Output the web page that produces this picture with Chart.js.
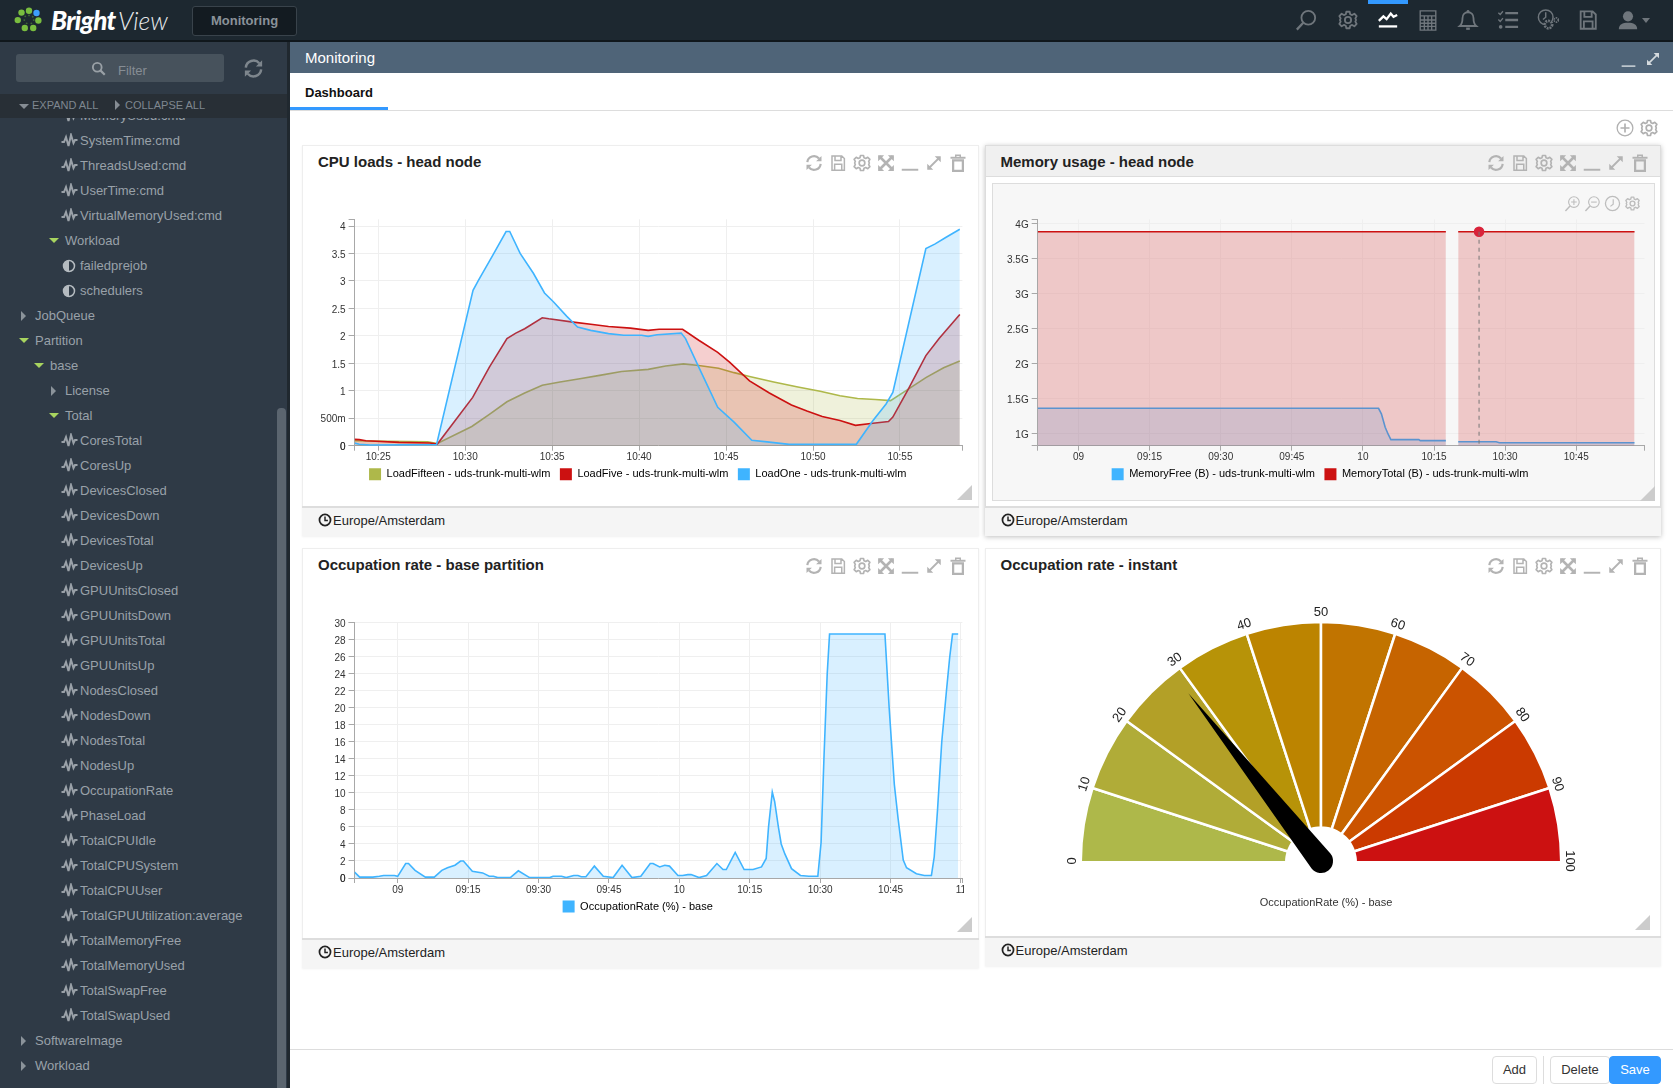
<!DOCTYPE html>
<html>
<head>
<meta charset="utf-8">
<title>Bright View - Monitoring</title>
<script src="https://cdn.jsdelivr.net/npm/chart.js@4"></script>
<style>
html,body{margin:0;padding:0;width:1673px;height:1088px;overflow:hidden;background:#fff;font-family:"Liberation Sans",Arial,sans-serif}
.a{position:absolute}
canvas{position:absolute;display:block}
#top{left:0;top:0;width:1673px;height:40px;background:#1d2830;border-bottom:2px solid #10171c}
#mon{left:192px;top:6px;width:103px;height:28px;background:#131b21;border:1px solid #39434b;border-radius:3px;color:#8a9299;font:bold 13px "Liberation Sans";text-align:center;line-height:27px}
#side{left:0;top:42px;width:287px;height:1046px;background:#2f3a46;overflow:hidden}
#div{left:287px;top:42px;width:3px;height:1046px;background:#20282f}
.row{position:absolute;height:20px;line-height:20px;font-size:13px;color:#99a1a9;white-space:nowrap}
.panel{position:absolute;background:#fff;border:1px solid #eee;box-sizing:border-box}
.ptitle{position:absolute;font:bold 15px "Liberation Sans";color:#222;line-height:18px;white-space:nowrap}
.foot{position:absolute;background:#f5f5f5;border-top:2px solid #ddd;box-sizing:border-box;font-size:13px;color:#222;line-height:26px}
.btn{position:absolute;top:1056px;height:28px;box-sizing:border-box;border:1px solid #ddd;border-radius:4px;background:#fff;color:#333;font-size:13px;text-align:center;line-height:26px}
</style>
</head>
<body>
<div id="root"></div>
<script>
/* ---------- CPU loads (minutes after 10:25, load) ---------- */
const cpuFifteenTimes=[-1.36,0.56,2.84,3.4,5.38,6.39,7.4,8.42,9.43,10.45,11.59,12.73,13.99,15.52,16.53,17.55,18.43,19.57,20.46,21.35,22.74,24.13,25.41,26.55,27.56,28.58,29.46,30.48,31.49,32.51,33.44];
const cpuFifteenValues=[0.09,0.08,0.07,0.04,0.35,0.57,0.80,0.96,1.10,1.16,1.22,1.28,1.35,1.39,1.45,1.49,1.46,1.41,1.33,1.26,1.16,1.07,0.99,0.91,0.86,0.84,0.82,1.03,1.24,1.42,1.54];
const cpuFiveTimes=[-1.36,-1.09,-0.71,1.19,2.97,3.4,5.43,6.39,7.4,7.91,8.42,9.43,9.81,11.21,12.22,13.24,14.5,15.52,16.15,17.5,18.43,19.52,20.2,21.35,22.49,23.76,24.65,25.53,26.55,27.44,28.45,29.34,29.59,30.48,31.49,32.25,33.44];
const cpuFiveValues=[0.115,0.11,0.09,0.06,0.05,0.03,0.88,1.43,1.95,2.05,2.13,2.33,2.31,2.25,2.21,2.17,2.14,2.10,2.12,2.12,1.92,1.70,1.52,1.18,0.96,0.74,0.63,0.53,0.46,0.37,0.41,0.44,0.52,1.03,1.64,1.95,2.39];
const cpuOneTimes=[-1.36,-1.09,-0.46,3.35,5.45,5.76,6.59,7.35,7.56,8.16,8.92,9.56,10.07,10.83,11.46,12.22,13.24,14.12,15.14,15.52,16.03,17.42,17.67,18.43,19.52,20.46,21.48,22.36,23.63,27.49,28.45,29.2,29.59,31.49,32.0,32.63,33.44];
const cpuOneValues=[0.05,0.025,0.01,0.02,2.83,3.01,3.47,3.9,3.9,3.5,3.14,2.78,2.62,2.36,2.16,2.10,2.04,2.01,2.01,1.99,2.02,2.05,1.95,1.43,0.70,0.43,0.10,0.07,0.025,0.025,0.46,0.76,0.97,3.59,3.67,3.79,3.94];
const cpuNames=["LoadFifteen - uds-trunk-multi-wlm","LoadFive - uds-trunk-multi-wlm","LoadOne - uds-trunk-multi-wlm"];
const cpuXTicks=[0,5,10,15,20,25,30];
const cpuXLabels=["10:25","10:30","10:35","10:40","10:45","10:50","10:55"];
const cpuYTicks=[0,0.5,1,1.5,2,2.5,3,3.5,4];
const cpuYLabels=["0","500m","1","1.5","2","2.5","3","3.5","4"];

/* ---------- Memory usage (minutes after 09:00, gigabytes) ---------- */
const memFreeTimes=[-8.6,63.3,63.9,64.7,65.3,65.9,71.8,72.1,77.5,78.8,80.1,88.1,88.8,117.3];
const memFreeValues=[1.366,1.366,1.286,1.095,1.0,0.92,0.92,0.905,0.905,null,0.89,0.89,0.876,0.876];
const memTotalTimes=[-8.6,77.5,78.8,80.1,84.5,117.3];
const memTotalValues=[3.88,3.88,null,3.88,3.88,3.88];
const memCursorTime=84.5;
const memNames=["MemoryFree (B) - uds-trunk-multi-wlm","MemoryTotal (B) - uds-trunk-multi-wlm"];
const memXTicks=[0,15,30,45,60,75,90,105];
const memXLabels=["09","09:15","09:30","09:45","10","10:15","10:30","10:45"];
const memYTicks=[1,1.5,2,2.5,3,3.5,4];
const memYLabels=["1G","1.5G","2G","2.5G","3G","3.5G","4G"];

/* ---------- Occupation rate history (minutes after 09:00, percent) ---------- */
const occTimes=[-9.2,-8.1,-5.3,-3.9,-3.0,-0.7,0,1.7,2.3,3.7,5.9,7.8,9.4,10.6,12.2,13.4,14.0,15.9,18.1,19.5,20.4,21.3,24.0,25.7,28.1,32.4,33.1,34.9,35.9,37.5,38.4,39.1,40.1,41.9,43.8,45.9,47.8,49.9,51.8,53.8,54.4,55.8,56.9,57.9,59.7,60.7,61.8,62.5,64.2,65.8,68.0,69.3,70.0,71.9,73.8,75.7,77.5,78.5,79.0,79.8,80.3,81.1,81.7,82.5,83.9,85.8,87.6,89.5,90.2,90.8,91.5,92.0,103.8,104.7,105.8,106.6,107.7,108.4,110.5,112.2,113.7,114.3,115.0,115.9,116.9,117.6,118.2,119.4];
const occValues=[0.7,0.1,0.1,0.2,0.3,0.3,0.2,1.7,1.7,0.9,0.1,0.1,0.9,1.2,1.5,2.0,2.0,0.8,0.6,0.2,0.2,0.05,0.05,0.85,0.05,0.05,0.2,0.2,0.05,0.3,0.3,0.15,0.15,1.4,0.2,0.05,1.5,0.05,0.2,1.7,1.7,1.3,1.5,1.4,0.3,0.3,0.4,0.4,0.05,0.3,1.7,1.0,1.0,3.0,1.0,1.0,1.3,2.3,6.0,10.1,9.0,6.0,4.0,2.8,1.1,0.3,0.2,0.2,4.2,14.0,24.0,28.7,28.7,20.0,11.0,7.0,2.1,1.2,0.5,0.3,0.3,2.5,8.0,16.0,22.0,26.0,28.7,28.7];
const occName="OccupationRate (%) - base";
const occXTicks=[0,15,30,45,60,75,90,105,120];
const occXLabels=["09","09:15","09:30","09:45","10","10:15","10:30","10:45","11"];
const occYTicks=[0,2,4,6,8,10,12,14,16,18,20,22,24,26,28,30];

/* ---------- Instant gauge ---------- */
const gaugeValue=28.7;
const gaugeSegments=[10,10,10,10,10,10,10,10,10,10];
const gaugeColors=["#aeb84a","#b0ac38","#b3a027","#b79308","#bc8400","#c17400","#c66400","#cb5300","#cb3a00","#cc1111"];
const gaugeTicks=[0,10,20,30,40,50,60,70,80,90,100];

/* ---------- Page text ---------- */
const treeRows=[["MemoryUsed:cmd",3,"w"],["SystemTime:cmd",3,"w"],["ThreadsUsed:cmd",3,"w"],["UserTime:cmd",3,"w"],["VirtualMemoryUsed:cmd",3,"w"],["Workload",2,"o"],["failedprejob",3,"h"],["schedulers",3,"h"],["JobQueue",0,"c"],["Partition",0,"o"],["base",1,"o"],["License",2,"c"],["Total",2,"o"],["CoresTotal",3,"w"],["CoresUp",3,"w"],["DevicesClosed",3,"w"],["DevicesDown",3,"w"],["DevicesTotal",3,"w"],["DevicesUp",3,"w"],["GPUUnitsClosed",3,"w"],["GPUUnitsDown",3,"w"],["GPUUnitsTotal",3,"w"],["GPUUnitsUp",3,"w"],["NodesClosed",3,"w"],["NodesDown",3,"w"],["NodesTotal",3,"w"],["NodesUp",3,"w"],["OccupationRate",3,"w"],["PhaseLoad",3,"w"],["TotalCPUIdle",3,"w"],["TotalCPUSystem",3,"w"],["TotalCPUUser",3,"w"],["TotalGPUUtilization:average",3,"w"],["TotalMemoryFree",3,"w"],["TotalMemoryUsed",3,"w"],["TotalSwapFree",3,"w"],["TotalSwapUsed",3,"w"],["SoftwareImage",0,"c"],["Workload",0,"c"]];

/* ---------- Page shell ---------- */
const root=document.getElementById("root");
let html="";
const gearPath=(c)=>`<circle cx="12" cy="12" r="3.4" fill="none" stroke="${c}" stroke-width="2"/><path d="M10 2h4l.7 3 2.3 1 2.7-1.6 2.8 2.8L20.9 10l.9 2-.9 2 1.6 2.8-2.8 2.8-2.7-1.6-2.3 1-.7 3h-4l-.7-3-2.3-1-2.7 1.6-2.8-2.8L3.100 14l-.9-2 .9-2-1.6-2.8 2.8-2.8L7 6l2.300-1z" transform="translate(1.2 1.2) scale(.9)" fill="none" stroke="${c}" stroke-width="2.2" stroke-linejoin="round"/>`;
const icons={
 refresh:c=>`<path d="M4 11a8 8 0 0 1 14-4.500M20 13a8 8 0 0 1-14 4.500" fill="none" stroke="${c}" stroke-width="2.600"/><path d="M21 3.500v6.500h-6.500zM3 20.500V14h6.500z" fill="${c}"/>`,
 save:c=>`<path d="M4 2.500h13l3.500 3.500v15.500H4zM8 2.500v6h8v-6M7.500 21.500v-8h9.500v8" fill="none" stroke="${c}" stroke-width="2"/>`,
 gear:gearPath,
 cross:c=>`<path d="M3 3l18 18M21 3L3 21" stroke="${c}" stroke-width="3.500"/><path d="M1.500 1.500h8l-8 8zM22.500 1.500v8l-8-8zM1.500 22.500v-8l8 8zM22.500 22.500h-8l8-8z" fill="${c}"/>`,
 min:c=>`<path d="M1 21h22" stroke="${c}" stroke-width="2.600"/>`,
 exp:c=>`<path d="M5 19L19 5" stroke="${c}" stroke-width="2.400"/><path d="M13 3h8v8zM3 13v8h8z" fill="${c}"/>`,
 trash:c=>`<path d="M2 5h20" stroke="${c}" stroke-width="2.600"/><path d="M9 4V1.500h6V4" fill="none" stroke="${c}" stroke-width="2"/><path d="M5.500 8.500h13V22.500h-13z" fill="none" stroke="${c}" stroke-width="3"/>`,
 search:c=>`<circle cx="14.500" cy="9.500" r="7.500" fill="none" stroke="${c}" stroke-width="2"/><path d="M9 15L2 22.500" stroke="${c}" stroke-width="2.500"/>`,
 chart:c=>`<path d="M2 13l5-5 3.500 3 4.500-6 3 3.500 4-2" fill="none" stroke="${c}" stroke-width="2.500"/><path d="M2 19h20" stroke="${c}" stroke-width="2.500"/>`,
 calc:c=>`<path d="M3.500 2h17v21h-17zM3.500 7.500h17M3.500 12h17M3.500 15.500h17M3.500 19h17M8 7.500V23M12 7.500V23M16 7.500V23" fill="none" stroke="${c}" stroke-width="1.500"/>`,
 bell:c=>`<path d="M3 18.500c3-2.500 3-5.500 3-8.500 0-4 2.500-6.500 6-6.500s6 2.500 6 6.500c0 3 0 6 3 8.500z" fill="none" stroke="${c}" stroke-width="2"/><circle cx="12" cy="2.500" r="1.500" fill="${c}"/><path d="M10 21.500h4" stroke="${c}" stroke-width="2.500"/>`,
 list:c=>`<path d="M9 4.500h14M9 12h14M9 19.500h14" stroke="${c}" stroke-width="2.600"/><path d="M1.500 4l2 2 3-3.500M1.500 11.500l2 2 3-3.500" fill="none" stroke="${c}" stroke-width="1.500"/><circle cx="4" cy="19.500" r="2" fill="${c}"/>`,
 clockg:c=>`<circle cx="9.500" cy="9" r="8" fill="none" stroke="${c}" stroke-width="1.600"/><path d="M9.500 3.500V9l-3 2.500" fill="none" stroke="${c}" stroke-width="1.600"/><circle cx="12.500" cy="17" r="4" fill="#1d2830" stroke="${c}" stroke-width="3" stroke-dasharray="2 1"/><circle cx="21" cy="12" r="2.300" fill="#1d2830" stroke="${c}" stroke-width="1.800" stroke-dasharray="1.500 .8"/>`,
 user:c=>`<circle cx="12" cy="8" r="5.500" fill="${c}"/><path d="M2 22c0-5 4-7 10-7s10 2 10 7z" fill="${c}"/>`,
 plus:c=>`<circle cx="12" cy="12" r="10.500" fill="none" stroke="${c}" stroke-width="1.700"/><path d="M12 6v12M6 12h12" stroke="${c}" stroke-width="2.200"/>`,
 clock:c=>`<circle cx="12" cy="12" r="9.500" fill="none" stroke="${c}" stroke-width="3"/><path d="M12 6v7h5" fill="none" stroke="${c}" stroke-width="2.500"/>`,
 zin:c=>`<circle cx="14" cy="10" r="7.500" fill="none" stroke="${c}" stroke-width="1.600"/><path d="M14 6v8M10 10h8" stroke="${c}" stroke-width="1.500"/><path d="M8.500 15.500L2 22.500" stroke="${c}" stroke-width="2"/>`,
 zout:c=>`<circle cx="14" cy="10" r="7.500" fill="none" stroke="${c}" stroke-width="1.600"/><path d="M10 10h8" stroke="${c}" stroke-width="1.500"/><path d="M8.500 15.500L2 22.500" stroke="${c}" stroke-width="2"/>`,
 hist:c=>`<circle cx="12" cy="12" r="10" fill="none" stroke="${c}" stroke-width="1.800"/><path d="M13 6v7l-4 3" fill="none" stroke="${c}" stroke-width="1.600"/>`,
 search2:c=>`<circle cx="10" cy="10" r="7" fill="none" stroke="${c}" stroke-width="3"/><path d="M15 15l7 7" stroke="${c}" stroke-width="3.500"/>`
};
function icon(name,cx,cy,size,color){
 return `<svg class="a" style="left:${cx-size/2}px;top:${cy-size/2}px;width:${size}px;height:${size}px" viewBox="0 0 24 24">${icons[name](color)}</svg>`;
}
/* top bar */
html+=`<div class="a" id="top"></div><div class="a" id="mon">Monitoring</div>`;
html+=`<svg class="a" style="left:14px;top:6px;width:30px;height:30px" viewBox="0 0 32 32">`+
 [[4,15,"#79bd3f"],[8,7,"#79bd3f"],[16,5,"#79bd3f"],[24,7.500,"#3d9dfa"],[26,15.500,"#79bd3f"],[20.500,23.500,"#79bd3f"],[11.500,23.500,"#79bd3f"]].map(d=>`<circle cx="${d[0]}" cy="${d[1]}" r="3.400" fill="${d[2]}"/>`).join("")+
 [[12,11],[16,10],[20,11.500],[21,15],[18.500,18.500],[13.500,18.500],[11,15]].map(d=>`<circle cx="${d[0]}" cy="${d[1]}" r="1" fill="#3f6a35"/>`).join("")+`</svg>`;
html+=`<div class="a" style="left:51px;top:3px;font:italic 900 26px Lato;color:#fff;line-height:34px;letter-spacing:-.7px">Bright</div>`;
html+=`<div class="a" style="left:118px;top:3px;font:italic 300 25px Lato;color:#e8eaec;line-height:34px">View</div>`;
html+=`<div class="a" style="left:1368px;top:0;width:40px;height:4px;background:#3399ff"></div>`;
[["search",1306],["gear",1348],["chart",1388],["calc",1428],["bell",1468],["list",1508],["clockg",1548],["save",1588],["user",1628]].forEach(d=>{
 html+=icon(d[0],d[1],20,22,d[0]==="chart"?"#fff":"#6f767c");
});
html+=`<div class="a" style="left:1642px;top:18px;width:0;height:0;border:4px solid transparent;border-top:5px solid #6f767c"></div>`;
/* sidebar */
let side=`<div class="a" style="left:16px;top:12px;width:208px;height:28px;background:#47525c;border-radius:3px"></div>`;
side+=`<div class="a" style="left:118px;top:19px;color:#868d94;font-size:13px;line-height:20px">Filter</div>`;
side+=icon("search2",98.500,26,15,"#99a0a6")+icon("refresh",253,26,23,"#7e868d");
const rowH=25;
treeRows.forEach((r,i)=>{
 const cy=115.700-42+i*rowH;
 const lvl=r[1],t=r[2];
 const x=[35,50,65,80][lvl];
 side+=`<div class="row" style="left:${x}px;top:${cy-10}px">${r[0]}</div>`;
 if(t==="w"){side+=`<svg class="a" style="left:61px;top:${cy-8}px;width:17px;height:15px" viewBox="0 0 17 15"><path d="M.5 9h2.500l2-5 2.500 9L10 2l2.500 8 1.500-3h2.500" fill="none" stroke="#9aa1a8" stroke-width="2"/></svg>`;}
 if(t==="h"){side+=`<svg class="a" style="left:62px;top:${cy-7}px;width:14px;height:14px" viewBox="0 0 14 14"><circle cx="7" cy="7" r="5.500" fill="none" stroke="#b5bbc0" stroke-width="1.500"/><path d="M7 1.500a5.500 5.500 0 0 0 0 11z" fill="#b5bbc0"/></svg>`;}
 if(t==="o"){side+=`<div class="a" style="left:${x-16}px;top:${cy-2.500}px;width:0;height:0;border-left:5px solid transparent;border-right:5px solid transparent;border-top:5px solid #a8d45f"></div>`;}
 if(t==="c"){side+=`<div class="a" style="left:${x-14}px;top:${cy-5}px;width:0;height:0;border-top:5px solid transparent;border-bottom:5px solid transparent;border-left:5px solid #8b939a"></div>`;}
});
side+=`<div class="a" style="left:0;top:52px;width:287px;height:24px;background:#282f36"></div>`;
side+=`<div class="a" style="left:19px;top:62px;width:0;height:0;border-left:5px solid transparent;border-right:5px solid transparent;border-top:5px solid #858c93"></div>`;
side+=`<div class="a" style="left:32px;top:53px;color:#7f8790;font-size:11px;line-height:20px">EXPAND ALL</div>`;
side+=`<div class="a" style="left:115px;top:58px;width:0;height:0;border-top:5px solid transparent;border-bottom:5px solid transparent;border-left:5px solid #858c93"></div>`;
side+=`<div class="a" style="left:125px;top:53px;color:#7f8790;font-size:11px;line-height:20px">COLLAPSE ALL</div>`;
side+=`<div class="a" style="left:277px;top:366px;width:9px;height:690px;background:#5b656f;border-radius:4px"></div>`;
html+=`<div class="a" id="side">${side}</div><div class="a" id="div"></div>`;
/* monitoring header */
html+=`<div class="a" style="left:290px;top:42px;width:1383px;height:31px;background:#4f6478"></div>`;
html+=`<div class="a" style="left:305px;top:48px;color:#fff;font-size:15px;line-height:20px">Monitoring</div>`;
html+=icon("min",1628,60,15,"#c4ccd3")+icon("exp",1653,59,16,"#d5dade");
html+=`<div class="a" style="left:305px;top:83px;color:#111;font:bold 13px 'Liberation Sans';line-height:20px">Dashboard</div>`;
html+=`<div class="a" style="left:290px;top:110px;width:1383px;height:1px;background:#ddd"></div>`;
html+=`<div class="a" style="left:290px;top:107px;width:98px;height:3px;background:#3399ff"></div>`;
html+=icon("plus",1625,128,18,"#b0b0b0")+icon("gear",1649,128,20,"#b0b0b0");
/* panels */
const panels=[
 {x:302,y:145,w:677,h:391,foot:361,rx:972,ry:500,tx:318,title:"CPU loads - head node",ic:814},
 {x:985,y:145,w:676,h:391,foot:361,rx:1654.500,ry:500.500,tx:1000.500,title:"Memory usage - head node",hl:true,ic:1496},
 {x:302,y:548,w:677,h:420,foot:390,rx:972,ry:932,tx:318,title:"Occupation rate - base partition",ic:814},
 {x:985,y:548,w:676,h:418,foot:388,rx:1650,ry:930,tx:1000.500,title:"Occupation rate - instant",ic:1496}
];
const toolNames=["refresh","save","gear","cross","min","exp","trash"];
panels.forEach(p=>{
 html+=`<div class="panel" style="left:${p.x}px;top:${p.y}px;width:${p.w}px;height:${p.h}px;${p.hl?"box-shadow:0 1px 5px rgba(0,0,0,.25);border-color:#ddd":"box-shadow:0 1px 2px rgba(0,0,0,.06)"}"></div>`;
 if(p.hl){
  html+=`<div class="a" style="left:${p.x+1}px;top:${p.y+1}px;width:${p.w-2}px;height:31px;background:#f0f0f0;border-bottom:1px solid #ddd;box-sizing:border-box"></div>`;
  html+=`<div class="a" style="left:991.500px;top:183px;width:663px;height:318px;background:#f7f7f7;border:1px solid #ddd;box-sizing:border-box"></div>`;
 }
 html+=`<div class="ptitle" style="left:${p.tx}px;top:${p.y+8}px">${p.title}</div>`;
 toolNames.forEach((n,i)=>{html+=icon(n,p.ic+i*24,p.y+18,n==="refresh"||n==="gear"?20:18,"#b3b3b3");});
 html+=`<div class="foot" style="left:${p.x}px;top:${p.y+p.foot}px;width:${p.w}px;height:${p.h-p.foot}px;padding-left:${p.tx+15-p.x}px">Europe/Amsterdam</div>`;
 html+=icon("clock",p.tx+7,p.y+p.foot+14,14,"#222");
 html+=`<div class="a" style="left:${p.rx-15}px;top:${p.ry-15}px;width:0;height:0;border-left:15px solid transparent;border-bottom:15px solid #ccc"></div>`;
});
[["zin",1572],["zout",1592],["hist",1612],["gear",1632]].forEach(d=>{html+=icon(d[0],d[1],203,17,"#bdbdbd");});
/* bottom bar */
html+=`<div class="a" style="left:290px;top:1049px;width:1383px;height:1px;background:#ddd"></div>`;
html+=`<div class="btn" style="left:1492px;width:45px">Add</div><div class="a" style="left:1543px;top:1056px;width:1px;height:28px;background:#ddd"></div><div class="btn" style="left:1550px;width:60px">Delete</div><div class="btn" style="left:1609px;width:52px;background:#3399ff;border-color:#3399ff;color:#fff">Save</div>`;
/* canvases */
html+=`<canvas id="cCpu" width="652" height="282" style="left:312px;top:215px"></canvas>`;
html+=`<canvas id="cMem" width="652" height="282" style="left:994px;top:215px"></canvas>`;
html+=`<canvas id="cOcc" width="652" height="312" style="left:312px;top:618px"></canvas>`;
html+=`<canvas id="cGauge" width="542" height="330" style="left:1050px;top:600px"></canvas>`;
root.innerHTML=html;

/* ---------- Chart.js ---------- */
const FONT="'Liberation Sans'";
Chart.defaults.animation=false;
Chart.defaults.font.family=FONT;
const zip=(xs,ys)=>xs.map((x,i)=>({x,y:ys[i]}));
const BLUE="#3fb4ff",RED="#cc1111",OLIVE="#aeb84a";
const tint=(hex)=>{const n=parseInt(hex.slice(1),16);return `rgba(${n>>16},${(n>>8)&255},${n&255},.2)`;};
function series(label,color,order,xs,ys,extra){
 return Object.assign({label,data:zip(xs,ys),borderColor:color,backgroundColor:tint(color),fill:"origin",borderWidth:1.6,pointRadius:0,tension:0,order,spanGaps:false},extra||{});
}
function fit(prop,val){return s=>{s[prop]=val;s.paddingLeft=s.paddingRight=s.paddingTop=s.paddingBottom=0;};}
function axis(min,max,ticks,labels,horizontal,size,tickLen){
 return {type:"linear",min,max,
  afterBuildTicks:s=>{s.ticks=[min,...ticks,max].map(value=>({value}));},
  afterFit:fit(horizontal?"height":"width",size),
  border:{color:"#a8a8a8",width:1},
  grid:{color:c=>(c.tick&&c.tick.label==="")?"rgba(0,0,0,0)":"#efefef",tickColor:"#a8a8a8",tickLength:tickLen,lineWidth:1},
  ticks:{color:"#333",font:{size:10,family:FONT},autoSkip:false,maxRotation:0,minRotation:0,padding:horizontal?1:3,labelOffset:horizontal?0:1.5,
   callback:v=>{const i=ticks.indexOf(v);return i<0?"":labels[i];}}
 };
}
/* the tick-label strip and the legend overlap by a few pixels, as in the dashboard */
const liftLegend={id:"liftLegend",afterLayout(c){c.legend.top-=5;c.legend.bottom-=5;}};
function lineOpts(padding,xAxis,yAxis){
 return {responsive:false,animation:false,layout:{padding},
  interaction:{mode:null},events:[],
  scales:{x:xAxis,y:yAxis},
  plugins:{tooltip:{enabled:false},
   legend:{position:"bottom",align:"center",labels:{boxWidth:12,boxHeight:12,padding:9.5,color:"#333",font:{size:11,family:FONT},
    sort:(a,b)=>a.datasetIndex-b.datasetIndex,
    generateLabels:c=>c.data.datasets.map((d,i)=>({text:d.label,fillStyle:d.borderColor,strokeStyle:d.borderColor,lineWidth:0,hidden:false,datasetIndex:i}))}}}};
}
new Chart(document.getElementById("cCpu"),{type:"line",plugins:[liftLegend],
 data:{datasets:[
  series(cpuNames[0],OLIVE,3,cpuFifteenTimes,cpuFifteenValues),
  series(cpuNames[1],RED,2,cpuFiveTimes,cpuFiveValues),
  series(cpuNames[2],BLUE,1,cpuOneTimes,cpuOneValues)]},
 options:lineOpts({left:1,right:1.6,top:4.3,bottom:1.8},
  axis(-1.36,33.59,cpuXTicks,cpuXLabels,true,18,5),
  axis(0,4.122,cpuYTicks,cpuYLabels,false,41.6,6))});
const cursorLine={id:"cursorLine",afterDatasetsDraw(c){
 const x=c.scales.x.getPixelForValue(memCursorTime),y0=c.scales.y.getPixelForValue(memTotalValues[4]),y1=c.chartArea.bottom;
 const g=c.ctx;g.save();g.strokeStyle="#777";g.lineWidth=1;g.setLineDash([4,4]);g.beginPath();g.moveTo(x,y0);g.lineTo(x,y1);g.stroke();g.restore();}};
new Chart(document.getElementById("cMem"),{type:"line",plugins:[cursorLine,liftLegend],
 data:{datasets:[
  series(memNames[0],BLUE,2,memFreeTimes,memFreeValues),
  series(memNames[1],RED,1,memTotalTimes,memTotalValues,{pointRadius:c=>(c.raw&&c.raw.x===memCursorTime)?4.5:0,pointBackgroundColor:"#d9233a",pointBorderColor:"#d9233a"})]},
 options:lineOpts({left:1.5,right:1.5,top:4.3,bottom:1.8},
  axis(-8.6,119.4,memXTicks,memXLabels,true,18,5),
  axis(0.833,4.057,memYTicks,memYLabels,false,42.2,6))});
new Chart(document.getElementById("cOcc"),{type:"line",plugins:[liftLegend],
 data:{datasets:[series(occName,BLUE,1,occTimes,occValues)]},
 options:lineOpts({left:1,right:1.6,top:4.3,bottom:2.5},
  axis(-9.18,120.3,occXTicks,occXLabels,true,18,5),
  axis(0,30.08,occYTicks,occYTicks.map(String),false,41.6,6))});
const gaugeDecor={id:"gaugeDecor",afterDatasetsDraw(c){
 const a=c.getDatasetMeta(0).data[0],cx=a.x,cy=a.y-1.25,R=a.outerRadius-1.25,g=c.ctx;
 /* tick labels follow the dial */
 g.save();g.fillStyle="#222";g.font="13px "+FONT;g.textAlign="center";g.textBaseline="middle";
 gaugeTicks.forEach(t=>{const th=Math.PI*(1-t/100);
  g.save();g.translate(cx+Math.cos(th)*(R+9.500),cy-Math.sin(th)*(R+9.500));g.rotate(Math.PI*(t/100-.5));g.fillText(String(t),0,0);g.restore();});
 g.fillStyle="#333";g.font="11px "+FONT;g.fillText(occName,cx+5,cy+42);
 /* needle */
 const th=Math.PI*(1-gaugeValue/100),len=R*.895,r=12;
 const tx=cx+Math.cos(th)*len,ty=cy-Math.sin(th)*len;
 g.fillStyle="#000";g.beginPath();g.moveTo(tx,ty);
 const aIn=Math.atan2(ty-cy,tx-cx);
 g.arc(cx,cy,r,aIn+Math.PI/2,aIn-Math.PI/2);g.closePath();g.fill();
 g.restore();}};
new Chart(document.getElementById("cGauge"),{type:"doughnut",plugins:[gaugeDecor],
 data:{labels:gaugeTicks.slice(0,10).map(String),datasets:[{data:gaugeSegments,backgroundColor:gaugeColors,borderColor:"#fff",borderWidth:2.500,borderAlign:"center"}]},
 options:{responsive:false,animation:false,rotation:-90,circumference:180,cutout:"14.46%",radius:240.250,
  layout:{padding:{left:31,right:31,top:22,bottom:67.750}},events:[],
  plugins:{legend:{display:false},tooltip:{enabled:false}}}});
</script>
</body>
</html>
